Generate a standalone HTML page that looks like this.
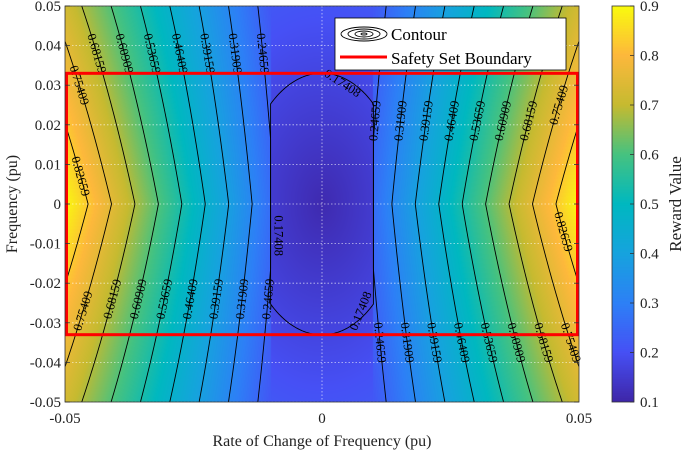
<!DOCTYPE html>
<html><head><meta charset="utf-8"><style>
body{margin:0;background:#fff;width:685px;height:453px;overflow:hidden;font-family:"Liberation Serif",serif}
#wrap{position:relative;width:685px;height:453px}
canvas{position:absolute}
svg{position:absolute;left:0;top:0}
</style></head><body>
<div id="wrap">
<canvas id="heat" width="514" height="396" style="left:65px;top:6px"></canvas>
<canvas id="cbar" width="22" height="396" style="left:612px;top:6px"></canvas>
<svg id="svg" width="685" height="453"></svg>
</div>
<script>
// ---- data ----
const xTicks = [-0.05, 0, 0.05];
const xTickLabels = ["-0.05", "0", "0.05"];
const yTicks = [0.05,0.04,0.03,0.02,0.01,0,-0.01,-0.02,-0.03,-0.04,-0.05];
const yTickLabels = ["0.05","0.04","0.03","0.02","0.01","0","-0.01","-0.02","-0.03","-0.04","-0.05"];
const cbTicks = [0.9,0.8,0.7,0.6,0.5,0.4,0.3,0.2,0.1];
const cbTickLabels = ["0.9","0.8","0.7","0.6","0.5","0.4","0.3","0.2","0.1"];
const outerLevels = [0.24659,0.31909,0.39159,0.46409,0.53659,0.60909,0.68159,0.75409,0.82659];
const leftLabelY = [[0.038,-0.024],[0.038,-0.024],[0.038,-0.024],[0.038,-0.024],[0.038,-0.024],[0.038,-0.024],[0.038,-0.024],[0.03,-0.027],[0.007]];
const rightLabelY = [[0.021,-0.035],[0.021,-0.035],[0.021,-0.035],[0.021,-0.035],[0.021,-0.035],[0.021,-0.035],[0.021,-0.035],[0.025,-0.035],[-0.007]];
const innerLevels = [0.17408];
const deadband = [0.01];
const outerBase = [0.103];
const outerBaseY = [0.3];
const outerSlopeX = [15.9];
const outerSlopeXY = [64];
const innerBase = [0.11];
const innerScale = [0.064];
const innerRadii = [0.0155, 0.033];
const safetyBounds = [-0.033, 0.033];

const NS="http://www.w3.org/2000/svg";
const L=65,T=6,W=514,H=396;
const px=x=>L+(x+0.05)/0.1*W;
const py=y=>T+(0.05-y)/0.1*H;
const cmin=0.1,cmax=0.9;
const cy=v=>T+(cmax-v)/(cmax-cmin)*H;
const svg=document.getElementById('svg');
function el(tag,attrs,parent){const e=document.createElementNS(NS,tag);for(const k in attrs)e.setAttribute(k,attrs[k]);(parent||svg).appendChild(e);return e;}

function value(x,y){
  const ax=Math.abs(x),ay=Math.abs(y);
  if(ax>=deadband[0]) return (outerBase[0]-outerBaseY[0]*ay)+(outerSlopeX[0]-outerSlopeXY[0]*ay)*ax;
  const r=Math.pow(x/innerRadii[0],2)+Math.pow(y/innerRadii[1],2);
  return innerBase[0]+innerScale[0]*Math.sqrt(r);
}
const stops=[[0,62,38,168],[0.125,70,80,245],[0.25,45,128,246],[0.375,22,163,222],[0.5,0,184,192],[0.625,70,194,128],[0.75,198,186,48],[0.875,253,184,60],[1,249,251,14]];
function cmap(v){
  let t=(v-cmin)/(cmax-cmin);t=Math.max(0,Math.min(1,t));
  for(let i=1;i<stops.length;i++){if(t<=stops[i][0]){const a=stops[i-1],b=stops[i],f=(t-a[0])/(b[0]-a[0]);
    return [a[1]+f*(b[1]-a[1]),a[2]+f*(b[2]-a[2]),a[3]+f*(b[3]-a[3])];}}
  return stops[stops.length-1].slice(1);
}
(function(){const c=document.getElementById('heat').getContext('2d');const img=c.createImageData(W,H);
for(let j=0;j<H;j++){const y=0.05-(j+0.5)/H*0.1;for(let i=0;i<W;i++){const x=-0.05+(i+0.5)/W*0.1;const col=cmap(value(x,y));const k=(j*W+i)*4;img.data[k]=col[0];img.data[k+1]=col[1];img.data[k+2]=col[2];img.data[k+3]=255;}}
c.putImageData(img,0,0);
const cb=document.getElementById('cbar').getContext('2d');const im2=cb.createImageData(22,H);
for(let j=0;j<H;j++){const col=cmap(cmax-(j+0.5)/H*(cmax-cmin));for(let i=0;i<22;i++){const k=(j*22+i)*4;im2.data[k]=col[0];im2.data[k+1]=col[1];im2.data[k+2]=col[2];im2.data[k+3]=255;}}
cb.putImageData(im2,0,0);})();

// grid
const g=el('g',{});

yTicks.forEach(v=>{const ln=el('line',{x1:L,x2:L+W,y1:py(v),y2:py(v),stroke:'#fff','stroke-opacity':0.7,'stroke-width':0.8,'stroke-dasharray':'1.5,2'},g);
});
xTicks.forEach(v=>{if(v===0){const ln=el('line',{x1:px(v),x2:px(v),y1:T,y2:T+H,stroke:'#fff','stroke-opacity':0.7,'stroke-width':0.8,'stroke-dasharray':'1.5,2'},g);
}});

// contours
const cg=el('g',{fill:'none',stroke:'#000','stroke-width':0.9});

function xAt(level,y){const ay=Math.abs(y);return Math.max(deadband[0],(level-(outerBase[0]-outerBaseY[0]*ay))/(outerSlopeX[0]-outerSlopeXY[0]*ay));}
outerLevels.forEach(level=>{[-1,1].forEach(s=>{
  let d='',first=true;
  for(let k=0;k<=200;k++){const y=0.05-k*0.0005;let x=xAt(level,y);if(x>0.05){first=first;continue;}d+=(first?'M':'L')+px(s*x).toFixed(2)+','+py(y).toFixed(2);first=false;}
  if(d){const p=el('path',{d:d},cg);}
});});
innerLevels.forEach(level=>{
  const r=Math.pow((level-innerBase[0])/innerScale[0],2);
  let d='';const pts=[];
  for(let k=0;k<=100;k++){const x=-deadband[0]+k*2*deadband[0]/100;const yy=Math.sqrt(Math.max(0,r-Math.pow(x/innerRadii[0],2)))*innerRadii[1];pts.push([x,yy]);}
  pts.forEach((p,i)=>{d+=(i?'L':'M')+px(p[0]).toFixed(2)+','+py(p[1]).toFixed(2);});
  for(let i=pts.length-1;i>=0;i--){d+='L'+px(pts[i][0]).toFixed(2)+','+py(-pts[i][1]).toFixed(2);}
  d+='Z';
  const p=el('path',{d:d},cg);
});
// contour labels
const lg=el('g',{'font-family':'"Liberation Serif",serif','font-size':'12.5','text-anchor':'middle','dominant-baseline':'central',fill:'#000'});

function label(level,s,y){
  const x=s*xAt(level,y);if(Math.abs(x)>0.0495)return;
  const x2=s*xAt(level,y-0.002);
  let ang=Math.atan2(py(y-0.002)-py(y),px(x2)-px(x))*180/Math.PI;
  if(ang>90)ang-=180;if(ang<-90)ang+=180;
  const t=el('text',{x:0,y:0,transform:`translate(${px(x).toFixed(1)},${py(y).toFixed(1)}) rotate(${ang.toFixed(1)})`},lg);
  t.textContent=level.toFixed(5);
  
}
outerLevels.forEach((level,i)=>{leftLabelY[i].forEach(y=>label(level,-1,y));rightLabelY[i].forEach(y=>label(level,1,y));});
(function(){const t=el('text',{x:0,y:0,transform:`translate(${px(-0.0085)},${py(-0.008)}) rotate(90)`},lg);t.textContent='0.17408';
const t2=el('text',{x:0,y:0,transform:`translate(${px(0.004)},${py(0.0305)}) rotate(33)`},lg);t2.textContent='0.17408';
const t3=el('text',{x:0,y:0,transform:`translate(${px(0.0075)},${py(-0.027)}) rotate(-68)`},lg);t3.textContent='0.17408';})();

// safety set
const sr=el('rect',{x:px(-0.05)+1.5,y:py(safetyBounds[1]),width:W-3,height:py(safetyBounds[0])-py(safetyBounds[1]),fill:'none',stroke:'#f00','stroke-width':3});


// axes
const ax=el('rect',{x:L,y:T,width:W,height:H,fill:'none',stroke:'#333','stroke-width':0.8});

const tg=el('g',{'font-family':'"Liberation Serif",serif','font-size':'15',fill:'#222'});

yTicks.forEach((v,i)=>{el('line',{x1:L,x2:L+5,y1:py(v),y2:py(v),stroke:'#333','stroke-width':0.8});el('line',{x1:L+W,x2:L+W-5,y1:py(v),y2:py(v),stroke:'#333','stroke-width':0.8});
 const t=el('text',{x:L-4,y:py(v)+5,'text-anchor':'end'},tg);t.textContent=yTickLabels[i];});
xTicks.forEach((v,i)=>{const t=el('text',{x:px(v),y:423,'text-anchor':'middle'},tg);t.textContent=xTickLabels[i];});
const xt=el('text',{x:px(0),y:446,'text-anchor':'middle','font-size':'16'},tg);xt.textContent='Rate of Change of Frequency (pu)';

const yt=el('text',{x:0,y:0,transform:`translate(17,${py(0)}) rotate(-90)`,'text-anchor':'middle','font-size':'16'},tg);yt.textContent='Frequency (pu)';

const cbf=el('rect',{x:612,y:T,width:22,height:H,fill:'none',stroke:'#333','stroke-width':0.8});

cbTicks.forEach((v,i)=>{el('line',{x1:634,x2:630,y1:cy(v),y2:cy(v),stroke:'#333','stroke-width':0.8});
 const t=el('text',{x:640,y:cy(v)+5},tg);t.textContent=cbTickLabels[i];});
const ct=el('text',{x:0,y:0,transform:`translate(681,${cy(0.5)}) rotate(-90)`,'text-anchor':'middle','font-size':'17'},tg);ct.textContent='Reward Value';


// legend
const leg=el('g',{});

el('rect',{x:335,y:18,width:231,height:52,fill:'#fff',stroke:'#000','stroke-width':0.8},leg);
[[23,7],[16,5],[9,3],[3,1]].forEach(r=>el('ellipse',{cx:364,cy:34,rx:r[0],ry:r[1],fill:'none',stroke:'#000','stroke-width':0.9},leg));
const l1=el('text',{x:391,y:40,'font-size':'17','font-family':'"Liberation Serif",serif'},leg);l1.textContent='Contour';

el('line',{x1:340,x2:387,y1:57,y2:57,stroke:'#f00','stroke-width':3},leg);
const l2=el('text',{x:391,y:64,'font-size':'17','font-family':'"Liberation Serif",serif'},leg);l2.textContent='Safety Set Boundary';

</script>
</body></html>
